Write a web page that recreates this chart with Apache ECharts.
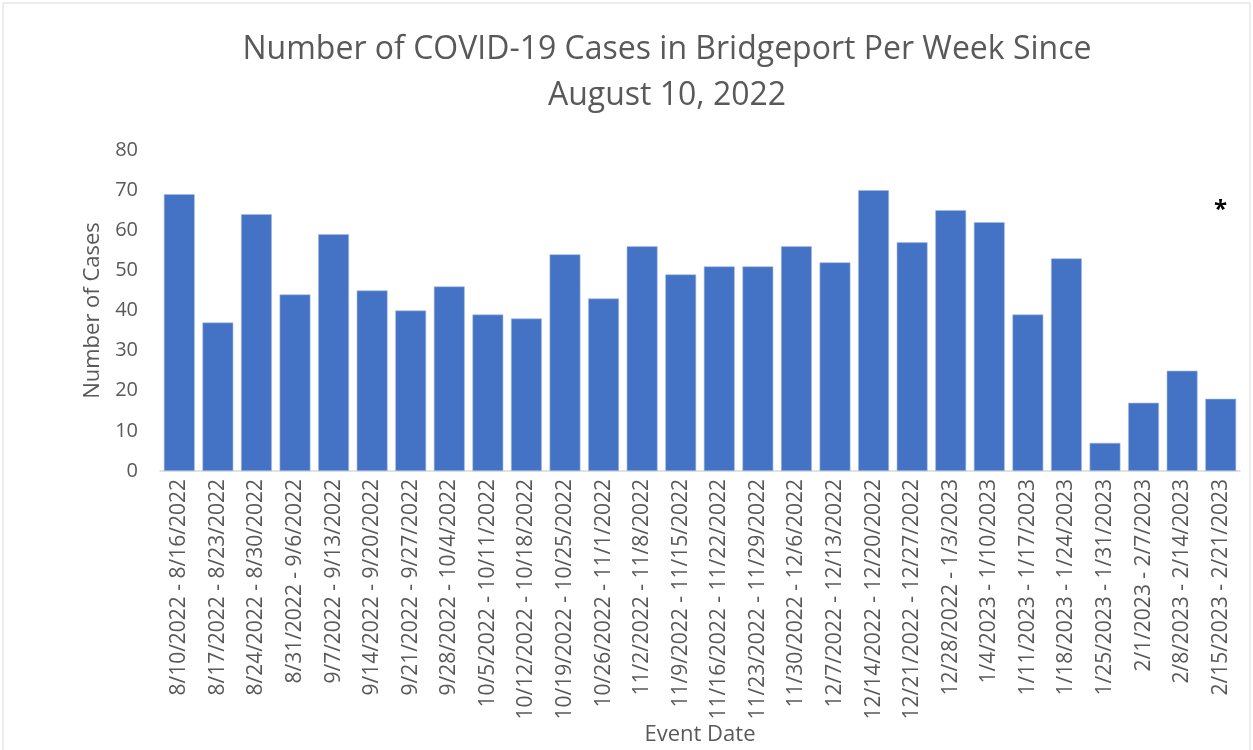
<!DOCTYPE html>
<html>
<head>
<meta charset="utf-8">
<script src="https://cdn.jsdelivr.net/npm/echarts@6/dist/echarts.min.js"></script>
<style>
  html, body { margin: 0; padding: 0; background: #fff; }
  #main { width: 1253px; height: 750px; }
</style>
</head>
<body>
<div id="main"></div>
<script>
// week ranges
const weeks = [
  '8/10/2022 - 8/16/2022', '8/17/2022 - 8/23/2022', '8/24/2022 - 8/30/2022',
  '8/31/2022 - 9/6/2022', '9/7/2022 - 9/13/2022', '9/14/2022 - 9/20/2022',
  '9/21/2022 - 9/27/2022', '9/28/2022 - 10/4/2022', '10/5/2022 - 10/11/2022',
  '10/12/2022 - 10/18/2022', '10/19/2022 - 10/25/2022', '10/26/2022 - 11/1/2022',
  '11/2/2022 - 11/8/2022', '11/9/2022 - 11/15/2022', '11/16/2022 - 11/22/2022',
  '11/23/2022 - 11/29/2022', '11/30/2022 - 12/6/2022', '12/7/2022 - 12/13/2022',
  '12/14/2022 - 12/20/2022', '12/21/2022 - 12/27/2022', '12/28/2022 - 1/3/2023',
  '1/4/2023 - 1/10/2023', '1/11/2023 - 1/17/2023', '1/18/2023 - 1/24/2023',
  '1/25/2023 - 1/31/2023', '2/1/2023 - 2/7/2023', '2/8/2023 - 2/14/2023',
  '2/15/2023 - 2/21/2023'
]
const cases = [69, 37, 64, 44, 59, 45, 40, 46, 39, 38, 54, 43, 56, 49, 51, 51, 56, 52, 70, 57, 65, 62, 39, 53, 7, 17, 25, 18]

const font = '"Open Sans", "Liberation Sans", sans-serif'
const grey = '#595959'

const option = {
  animation: false,
  title: {
    text: 'Number of COVID-19 Cases in Bridgeport Per Week Since\nAugust 10, 2022',
    // centred a bit right of the page centre, like the original
    left: 662,
    textAlign: 'center',
    top: 22,
    textStyle: {
      color: grey,
      fontFamily: font,
      fontWeight: 'normal',
      fontSize: 32,
      lineHeight: 46
    }
  },
  grid: {
    left: 160,
    right: 13,
    top: 150,
    bottom: 279
  },
  xAxis: {
    type: 'category',
    data: weeks,
    name: 'Event Date',
    nameLocation: 'middle',
    nameGap: 251,
    nameTextStyle: { color: grey, fontFamily: font, fontSize: 22 },
    axisLine: { lineStyle: { color: '#d9d9d9', width: 1.5 } },
    axisTick: { show: false },
    axisLabel: {
      rotate: 90,
      interval: 0,
      margin: 8,
      color: grey,
      fontFamily: font,
      fontSize: 21
    }
  },
  yAxis: {
    type: 'value',
    min: 0,
    max: 80,
    interval: 10,
    name: 'Number of Cases',
    nameLocation: 'middle',
    nameGap: 56,
    nameTextStyle: { color: grey, fontFamily: font, fontSize: 22 },
    splitLine: { show: false },
    axisLine: { show: false },
    axisLabel: { color: grey, fontFamily: font, fontSize: 20, margin: 22 }
  },
  series: [
    {
      name: 'Cases',
      type: 'bar',
      data: cases,
      barCategoryGap: '20%',
      itemStyle: { color: '#4472C4', borderColor: '#a8bde6', borderWidth: 0.6 }
    }
  ],
  graphic: [
    {
      type: 'rect',
      shape: { x: 3, y: 3, width: 1247, height: 760 },
      style: { fill: 'none', stroke: '#d9d9d9', lineWidth: 1 }
    },
    {
      type: 'text',
      left: 1214,
      top: 198,
      style: { text: '*', fill: '#000', font: 'bold 24px ' + font }
    }
  ]
}

const myChart = echarts.init(document.getElementById('main'))
option && myChart.setOption(option)
</script>
</body>
</html>
